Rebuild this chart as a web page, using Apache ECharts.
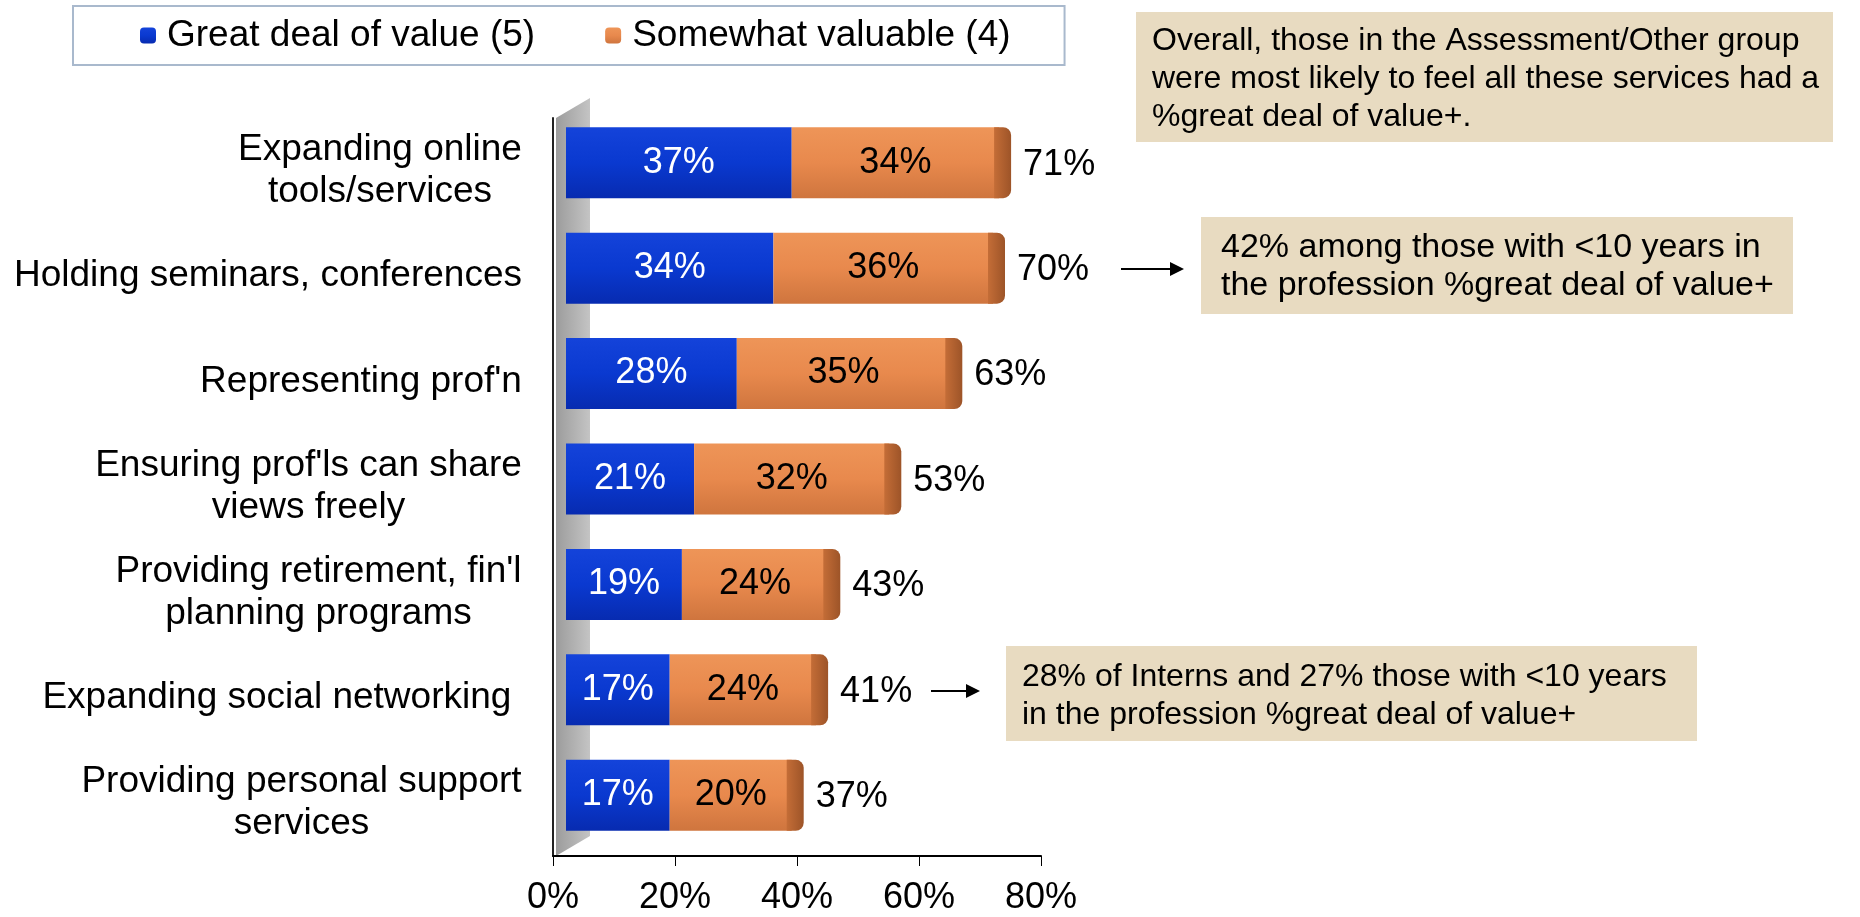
<!DOCTYPE html>
<html>
<head>
<meta charset="utf-8">
<script src="https://cdn.jsdelivr.net/npm/echarts@6/dist/echarts.min.js"></script>
<style>
  html, body { margin: 0; padding: 0; background: #fff; }
  #chart { width: 1860px; height: 917px; }
</style>
</head>
<body>
<div id="chart"></div>
<script>
const categories = [
    'Expanding online\ntools/services',
    'Holding seminars, conferences',
    "Representing prof'n",
    "Ensuring prof'ls can share\nviews freely",
    "Providing retirement, fin'l\nplanning programs",
    'Expanding social networking ',
    'Providing personal support\nservices'
];
const greatDeal = [37, 34, 28, 21, 19, 17, 17];
const somewhat = [34, 36, 35, 32, 24, 24, 20];
const totals = [71, 70, 63, 53, 43, 41, 37];
const seriesNames = ['Great deal of value (5)', 'Somewhat valuable (4)'];
const notes = [
    'Overall, those in the Assessment/Other group\nwere most likely to feel all these services had a\n%great deal of value+.',
    '42% among those with <10 years in\nthe profession %great deal of value+',
    '28% of Interns and 27% those with <10 years\nin the profession %great deal of value+'
];

const FONT = '"Liberation Sans", Arial, sans-serif';
const BAR_H = 71;

document.addEventListener('DOMContentLoaded', () => {
    const chart = echarts.init(document.getElementById('chart'));

    // category labels: block right-aligned, lines centred inside the block
    const ctx = document.createElement('canvas').getContext('2d');
    ctx.font = '37px ' + FONT;
    const rich = {};
    categories.forEach((c, i) => {
        const w = Math.max(...c.split('\n').map(l => ctx.measureText(l).width));
        rich['c' + i] = { width: Math.ceil(w), align: 'center', fontSize: 37, lineHeight: 42, fontFamily: FONT, color: '#000' };
    });

    const blue = new echarts.graphic.LinearGradient(0, 0, 0, 1, [
        { offset: 0, color: '#1443da' },
        { offset: 0.5, color: '#0a39d0' },
        { offset: 1, color: '#072bb0' }
    ]);
    const orange = new echarts.graphic.LinearGradient(0, 0, 0, 1, [
        { offset: 0, color: '#ee9558' },
        { offset: 0.5, color: '#e8894d' },
        { offset: 1, color: '#cf753e' }
    ]);
    const capColor = new echarts.graphic.LinearGradient(0, 0, 1, 0, [
        { offset: 0, color: '#c46d37' },
        { offset: 1, color: '#9d5428' }
    ]);

    const noteBox = (x, y, w, h, text, size, pad) => ({
        type: 'group',
        children: [
            { type: 'rect', shape: { x: x, y: y, width: w, height: h }, style: { fill: '#e8dbc1' } },
            { type: 'text', x: x + pad[0], y: y + pad[1], style: { text: text, fontSize: size, lineHeight: 38, fontFamily: FONT, fill: '#000' } }
        ]
    });
    const arrow = (x1, x2, y) => ({
        type: 'group',
        children: [
            { type: 'line', shape: { x1: x1, y1: y, x2: x2 - 12, y2: y }, style: { stroke: '#000', lineWidth: 2 } },
            { type: 'polygon', shape: { points: [[x2 - 14, y - 7], [x2, y], [x2 - 14, y + 7]] }, style: { fill: '#000' } }
        ]
    });

    chart.setOption({
        animation: false,
        textStyle: { fontFamily: FONT },
        legend: {
            data: seriesNames,
            left: 73,
            top: 6,
            padding: [9, 54, 9, 67],
            itemGap: 70,
            itemWidth: 16,
            itemHeight: 16,
            borderColor: '#a9b9cd',
            borderWidth: 2,
            textStyle: { fontSize: 37, color: '#000', fontFamily: FONT, lineHeight: 41, padding: [0, 0, 0, 6] }
        },
        grid: [
            { left: 553, top: 118, width: 488, height: 738 },
            { left: 566, top: 110, width: 488, height: 738 }
        ],
        xAxis: [{
            gridIndex: 0,
            type: 'value',
            min: 0,
            max: 80,
            interval: 20,
            splitLine: { show: false },
            axisLine: { show: true, lineStyle: { color: '#000', width: 2 } },
            axisTick: { show: true, length: 10, lineStyle: { color: '#000' } },
            axisLabel: { formatter: '{value}%', fontSize: 36, color: '#000', margin: 24 }
        }, {
            gridIndex: 1,
            type: 'value',
            min: 0,
            max: 80,
            show: false
        }],
        yAxis: [{
            gridIndex: 0,
            type: 'category',
            inverse: true,
            data: categories,
            axisLine: { lineStyle: { color: '#222', width: 2 } },
            axisTick: { length: 9, lineStyle: { color: '#222' } },
            axisLabel: {
                margin: 31,
                align: 'right',
                formatter: (v, i) => v.split('\n').map(l => '{c' + i + '|' + l + '}').join('\n'),
                rich: rich
            }
        }, {
            gridIndex: 1,
            type: 'category',
            inverse: true,
            data: categories,
            show: false
        }],
        graphic: [
            {
                type: 'polygon',
                z: 0,
                shape: { points: [[556, 856], [556, 118], [590, 98], [590, 836]] },
                style: {
                    fill: new echarts.graphic.LinearGradient(0, 0, 1, 0, [
                        { offset: 0, color: '#9c9c9c' },
                        { offset: 1, color: '#c4c4c4' }
                    ])
                }
            },
            noteBox(1136, 12, 697, 130, notes[0], 32, [16, 10]),
            noteBox(1201, 217, 592, 97, notes[1], 34, [20, 12]),
            noteBox(1006, 646, 691, 95, notes[2], 32, [16, 12]),
            arrow(1121, 1184, 269),
            arrow(931, 980, 691)
        ],
        series: [{
            name: seriesNames[0],
            type: 'bar',
            stack: 'total',
            xAxisIndex: 1,
            yAxisIndex: 1,
            barWidth: BAR_H,
            z: 3,
            data: greatDeal,
            itemStyle: { color: blue },
            label: { show: true, position: 'inside', formatter: '{c}%', fontSize: 36, color: '#fff' }
        }, {
            name: seriesNames[1],
            type: 'bar',
            stack: 'total',
            xAxisIndex: 1,
            yAxisIndex: 1,
            barWidth: BAR_H,
            z: 3,
            data: somewhat,
            itemStyle: { color: orange },
            label: { show: true, position: 'inside', formatter: '{c}%', fontSize: 36, color: '#000' }
        }, {
            // cylinder end cap plus the total label, placed from the totals through the axis scale
            name: 'total',
            type: 'custom',
            xAxisIndex: 1,
            yAxisIndex: 1,
            z: 4,
            data: totals.map((t, i) => [t, i]),
            encode: { x: 0, y: 1 },
            renderItem: (params, api) => {
                const p = api.coord([api.value(0), api.value(1)]);
                return {
                    type: 'group',
                    children: [{
                        type: 'rect',
                        shape: { x: p[0] - 5, y: p[1] - BAR_H / 2, width: 17, height: BAR_H, r: [0, 8, 8, 0] },
                        style: { fill: capColor }
                    }, {
                        type: 'text',
                        x: p[0] + 24,
                        y: p[1] + 2,
                        style: {
                            text: totals[params.dataIndex] + '%',
                            fontSize: 36,
                            fontFamily: FONT,
                            fill: '#000',
                            verticalAlign: 'middle'
                        }
                    }]
                };
            }
        }]
    });

    window.addEventListener('resize', () => chart.resize());
});
</script>
</body>
</html>
